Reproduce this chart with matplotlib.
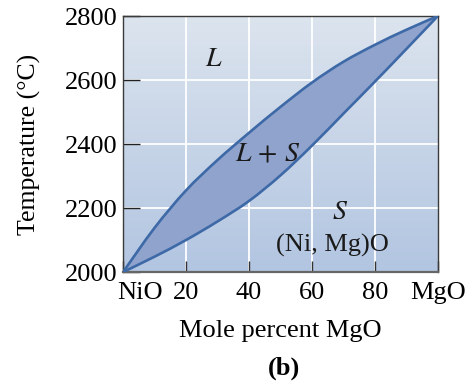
import numpy as np
import matplotlib
matplotlib.use("Agg")
import matplotlib.pyplot as plt
from matplotlib.colors import LinearSegmentedColormap
from matplotlib.path import Path
from matplotlib.patches import PathPatch
from matplotlib.transforms import ScaledTranslation

# NiO-MgO phase diagram: liquidus and solidus (mole % MgO vs temperature)
mole_pct = [0, 10, 20, 30, 40, 50, 60, 70, 80, 90, 100]
liquidus = [2000, 2138, 2255, 2350, 2435, 2516, 2592, 2657, 2710, 2757, 2800]
solidus = [2000, 2048, 2100, 2158, 2222, 2302, 2395, 2495, 2595, 2697, 2800]

x_ticks = [0, 20, 40, 60, 80, 100]
x_tick_labels = ["NiO", "20", "40", "60", "80", "MgO"]
y_ticks = [2000, 2200, 2400, 2600, 2800]


def bezier_segments(xs, ys):
    """Catmull-Rom style cubic segments through the given points."""
    pts = np.column_stack([xs, ys]).astype(float)
    verts, codes = [pts[0]], [Path.MOVETO]
    n = len(pts)
    for i in range(n - 1):
        p0 = pts[i - 1] if i > 0 else pts[i]
        p1, p2 = pts[i], pts[i + 1]
        p3 = pts[i + 2] if i + 2 < n else pts[i + 1]
        verts += [p1 + (p2 - p0) / 6.0, p2 - (p3 - p1) / 6.0, p2]
        codes += [Path.CURVE4] * 3
    return verts, codes


plt.rcParams["font.family"] = "Liberation Serif"
plt.rcParams["mathtext.fontset"] = "stix"

fig = plt.figure(figsize=(4.77, 3.81), dpi=100)
ax = fig.add_axes([0.258, 0.286, 0.660, 0.672])

# ...Light blue vertical gradient behind the diagram
bg = LinearSegmentedColormap.from_list("bg", ["#b2c5e1", "#dce4ee"])
grad = np.linspace(0, 1, 256).reshape(-1, 1)
ax.imshow(grad, cmap=bg, origin="lower", aspect="auto",
          extent=[0, 100, 2000, 2800], zorder=0)

for xv in x_ticks[1:-1]:
    ax.axvline(xv, color="white", lw=1.3, zorder=1)
for yv in y_ticks[1:-1]:
    ax.axhline(yv, color="white", lw=1.3, zorder=1)

# ...Two-phase region: liquidus out, solidus back
v_liq, c_liq = bezier_segments(mole_pct, liquidus)
v_sol, c_sol = bezier_segments(mole_pct[::-1], solidus[::-1])
lens = Path(v_liq + v_sol[1:] + [v_liq[0]],
            c_liq + c_sol[1:] + [Path.CLOSEPOLY])
ax.add_patch(PathPatch(lens, facecolor="#8fa3cd", edgecolor="none", zorder=2))
for v, c in ((v_liq, c_liq), (v_sol, c_sol)):
    ax.add_patch(PathPatch(Path(v, c), facecolor="none", edgecolor="#3e69a7",
                           lw=1.9, zorder=3, capstyle="round"))

txt = dict(ha="center", va="center", color="#1a1a1a")
ax.text(29, 2665, "$L$", fontsize=20, **txt)
ax.text(46, 2368, "$L\\,+\\,S$", fontsize=20, **txt)
ax.text(69, 2185, "$S$", fontsize=20, **txt)
ax.text(66.5, 2082, "(Ni, Mg)O", fontsize=19, **txt)

ax.set_xlim(0, 100)
ax.set_ylim(2000, 2800)
ax.set_xticks(x_ticks)
ax.set_xticklabels(x_tick_labels)
ax.set_yticks(y_ticks)

ax.tick_params(axis="x", direction="in", length=8, width=1.0, color="#333333",
               labelsize=19, pad=7)
ax.tick_params(axis="y", direction="in", length=12, width=1.0, color="#222222",
               labelsize=19, pad=4)
# NiO sits just right of the corner, clear of the 2000 label
nio = ax.get_xticklabels()[0]
nio.set_horizontalalignment("left")
nio.set_transform(nio.get_transform()
                  + ScaledTranslation(-4.5 / 72, 0, fig.dpi_scale_trans))

for s in ax.spines.values():
    s.set_color("#3a3a3a")
    s.set_linewidth(1.0)
ax.spines["bottom"].set_linewidth(1.6)
ax.spines["bottom"].set_color("#666666")

ax.set_ylabel("Temperature (\u00b0C)", fontsize=18.5, labelpad=17)
ax.set_xlabel("Mole percent MgO", fontsize=19, labelpad=12)

fig.text(0.595, 0.034, "(b)", fontsize=19, fontweight="bold", ha="center",
         va="center")

fig.savefig("out.png", dpi=100)
